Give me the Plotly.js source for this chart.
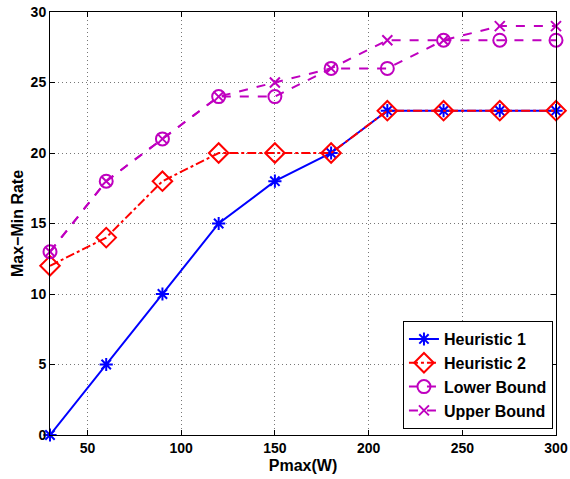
<!DOCTYPE html>
<html>
<head>
<meta charset="utf-8">
<script src="https://cdn.plot.ly/plotly-3.0.1.min.js"></script>
<style>html,body{margin:0;padding:0;background:#fff;}#chart{width:570px;height:479px;}</style>
</head>
<body>
<div id="chart"></div>
<script>
const pmax = [30, 60, 90, 120, 150, 180, 210, 240, 270, 300];
const heuristic1 = [0, 5, 10, 15, 18, 20, 23, 23, 23, 23];
const heuristic2 = [12, 14, 18, 20, 20, 20, 23, 23, 23, 23];
const lowerBound = [13, 18, 21, 24, 24, 26, 26, 28, 28, 28];
const upperBound = [13, 18, 21, 24, 25, 26, 28, 28, 29, 29];
const seriesNames = ['Heuristic 1', 'Heuristic 2', 'Lower Bound', 'Upper Bound'];
const xTicks = [50, 100, 150, 200, 250, 300];
const yTicks = [0, 5, 10, 15, 20, 25, 30];

const magenta = '#BF00BF';
const traces = [
  {x: pmax, y: heuristic1, name: seriesNames[0], mode: 'lines+markers', cliponaxis: false,
   line: {color: '#0000FF', width: 2, dash: 'solid'},
   marker: {symbol: 'asterisk-open', size: 11, color: '#0000FF', line: {color: '#0000FF', width: 2}}},
  {x: pmax, y: heuristic2, name: seriesNames[1], mode: 'lines+markers', cliponaxis: false,
   line: {color: '#FF0000', width: 2, dash: 'dashdot'},
   marker: {symbol: 'diamond-open', size: 15, color: '#FF0000', line: {color: '#FF0000', width: 2}}},
  {x: pmax, y: lowerBound, name: seriesNames[2], mode: 'lines+markers', cliponaxis: false,
   line: {color: magenta, width: 2, dash: 'dash'},
   marker: {symbol: 'circle-open', size: 13, color: magenta, line: {color: magenta, width: 2}}},
  {x: pmax, y: upperBound, name: seriesNames[3], mode: 'lines+markers', cliponaxis: false,
   line: {color: magenta, width: 2, dash: 'dash'},
   marker: {symbol: 'x-thin-open', size: 10, color: magenta, line: {color: magenta, width: 2}}}
];

const fontFam = 'Liberation Sans, Arial, Helvetica, sans-serif';
const layout = {
  width: 570, height: 479,
  margin: {l: 50, r: 14, t: 12, b: 44},
  paper_bgcolor: '#fff', plot_bgcolor: '#fff',
  font: {family: fontFam, size: 14, color: '#000', weight: 'bold'},
  showlegend: true,
  legend: {x: 0.994, xanchor: 'right', y: 0.014, yanchor: 'bottom',
           bgcolor: '#fff', bordercolor: '#000', borderwidth: 1,
           font: {family: fontFam, size: 16, color: '#000', weight: 'bold'},
           tracegroupgap: 0},
  xaxis: {
    range: [30, 300], tickvals: xTicks, ticktext: xTicks.map(String),
    showline: true, linecolor: '#000', linewidth: 1, mirror: 'ticks',
    ticks: 'inside', ticklen: 5, tickcolor: '#000',
    showgrid: true, gridcolor: '#777', griddash: '1px,3px', gridwidth: 1,
    zeroline: false,
    tickfont: {family: fontFam, size: 14, color: '#000', weight: 'bold'},
    title: {text: 'Pmax(W)', standoff: 5, font: {family: fontFam, size: 16, color: '#000', weight: 'bold'}}
  },
  yaxis: {
    range: [0, 30], tickvals: yTicks, ticktext: yTicks.map(String),
    showline: true, linecolor: '#000', linewidth: 1, mirror: 'ticks',
    ticks: 'inside', ticklen: 5, tickcolor: '#000',
    showgrid: true, gridcolor: '#777', griddash: '1px,3px', gridwidth: 1,
    zeroline: false,
    tickfont: {family: fontFam, size: 14, color: '#000', weight: 'bold'},
    title: {text: 'Max\u2212Min Rate', standoff: 3, font: {family: fontFam, size: 16, color: '#000', weight: 'bold'}}
  }
};

Plotly.newPlot('chart', traces, layout, {displayModeBar: false, staticPlot: true});
</script>
</body>
</html>
